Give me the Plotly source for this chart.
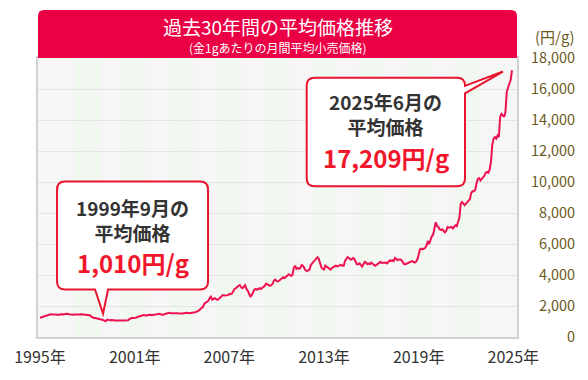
import plotly.graph_objects as go

# Monthly average retail gold price (yen per gram), Jul 1995 - Jun 2025
y1995 = [1240, 1270, 1320, 1330, 1350, 1390]
y1996 = [1430, 1480, 1470, 1450, 1460, 1440, 1450, 1440, 1430, 1440, 1470, 1450]
y1997 = [1460, 1490, 1520, 1500, 1470, 1440, 1410, 1430, 1450, 1440, 1430, 1440]
y1998 = [1450, 1460, 1450, 1470, 1460, 1450, 1460, 1440, 1400, 1310, 1250, 1230]
y1999 = [1220, 1200, 1190, 1180, 1160, 1140, 1100, 1050, 1010, 1120, 1090, 1080]
y2000 = [1090, 1100, 1080, 1070, 1060, 1080, 1070, 1060, 1070, 1060, 1070, 1080]
y2001 = [1070, 1080, 1150, 1200, 1240, 1230, 1220, 1240, 1290, 1320, 1300, 1330]
y2002 = [1390, 1420, 1400, 1380, 1420, 1440, 1420, 1430, 1420, 1440, 1430, 1460]
y2003 = [1480, 1500, 1460, 1420, 1450, 1480, 1470, 1520, 1560, 1530, 1540, 1550]
y2004 = [1540, 1560, 1540, 1530, 1500, 1520, 1510, 1530, 1540, 1550, 1560, 1540]
y2005 = [1560, 1570, 1580, 1580, 1590, 1620, 1700, 1720, 1800, 1850, 1950, 2150]
y2006 = [2200, 2280, 2330, 2500, 2600, 2400, 2450, 2500, 2450, 2400, 2450, 2520]
y2007 = [2650, 2700, 2680, 2700, 2680, 2700, 2780, 2760, 2800, 2950, 3100, 3150]
y2008 = [3250, 3300, 3350, 3200, 3150, 3250, 3340, 3100, 3000, 2800, 2590, 2700]
y2009 = [2850, 3050, 3100, 3050, 3100, 3150, 3100, 3150, 3200, 3300, 3450, 3400]
y2010 = [3350, 3300, 3350, 3450, 3650, 3700, 3600, 3580, 3650, 3700, 3800, 3850]
y2011 = [3800, 3850, 3950, 4050, 4000, 3950, 4000, 4450, 4600, 4400, 4450, 4400]
y2012 = [4450, 4650, 4600, 4450, 4300, 4250, 4300, 4350, 4650, 4750, 4800, 4900]
y2013 = [5050, 5150, 5050, 4750, 4500, 4400, 4350, 4600, 4550, 4500, 4450, 4350]
y2014 = [4450, 4500, 4600, 4600, 4550, 4600, 4650, 4650, 4600, 4600, 4900, 5000]
y2015 = [5150, 5100, 5000, 5000, 5100, 5050, 4800, 4700, 4700, 4750, 4650, 4550]
y2016 = [4700, 4850, 4800, 4700, 4750, 4700, 4800, 4700, 4650, 4600, 4650, 4750]
y2017 = [4800, 4850, 4780, 4800, 4780, 4800, 4750, 4850, 4950, 4900, 4950, 4900]
y2018 = [5100, 5050, 4950, 5000, 5000, 4950, 4800, 4700, 4700, 4750, 4750, 4800]
y2019 = [4850, 4900, 4850, 4800, 4850, 5000, 5300, 5650, 5700, 5650, 5700, 5750]
y2020 = [5900, 6200, 6000, 6300, 6500, 6600, 7000, 7400, 7150, 7100, 6950, 6900]
y2021 = [6950, 6850, 6750, 6850, 7100, 7050, 7100, 7100, 7000, 7100, 7200, 7150]
y2022 = [7400, 7700, 8600, 8700, 8600, 8500, 8600, 8700, 8800, 8900, 9300, 9400]
y2023 = [9400, 9500, 9900, 10200, 10250, 10100, 10200, 10300, 10400, 10600, 10650, 10600]
y2024 = [10800, 11300, 12400, 12800, 12900, 12800, 13000, 12900, 14200, 14400, 14300, 14200]
y2025 = [14500, 15800, 16100, 16400, 16600, 17209]

prices = (y1995 + y1996 + y1997 + y1998 + y1999 + y2000 + y2001 + y2002 + y2003
          + y2004 + y2005 + y2006 + y2007 + y2008 + y2009 + y2010 + y2011 + y2012
          + y2013 + y2014 + y2015 + y2016 + y2017 + y2018 + y2019 + y2020 + y2021
          + y2022 + y2023 + y2024 + y2025)
months = list(range(len(prices)))

x_tick_vals = [0, 72, 144, 216, 288, 360]
x_tick_text = ["1995年", "2001年", "2007年", "2013年", "2019年", "2025年"]
y_tick_vals = [0, 2000, 4000, 6000, 8000, 10000, 12000, 14000, 16000, 18000]
y_tick_text = ["\u2007\u2007\u2007\u2007\u20080", "\u20072,000", "\u20074,000", "\u20076,000",
               "\u20078,000", "10,000", "12,000", "14,000", "16,000", "18,000"]
band_centers = [36, 72, 108, 144, 180, 216, 252, 288, 324]

low_idx = 50          # Sep 1999
last_idx = len(prices) - 1  # Jun 2025
low_head = "1999年9月の<br>平均価格"
last_head = "2025年6月の<br>平均価格"
low_value = f"{prices[low_idx]:,}円/g"
last_value = f"{prices[last_idx]:,}円/g"

FONT = "Noto Sans CJK JP"
RED = "#EB0045"
LINE = "#EE1250"
BOX = "#E8152F"
VAL = "#F2162B"
DARK = "#333333"
OLIVE = "#6B5A1C"

fig = go.Figure()
fig.add_trace(go.Scatter(x=months, y=prices, mode="lines",
                         line=dict(color=LINE, width=2), hoverinfo="y"))

shapes = []
for c in band_centers:
    shapes.append(dict(type="rect", xref="x", yref="paper", x0=c - 9, x1=c + 9, y0=0, y1=1,
                       fillcolor="rgba(236,250,236,0.6)", line=dict(width=0), layer="below"))

# title banner
shapes.append(dict(type="path", xref="paper", yref="paper", xsizemode="pixel", ysizemode="pixel",
                   xanchor=0, yanchor=1,
                   path="M 0,0 L 0,42 Q 0,48 6,48 L 473,48 Q 479,48 479,42 L 479,0 Z",
                   fillcolor=RED, line=dict(width=0), layer="above"))

# callout for the low point
shapes.append(dict(type="path", xref="x", yref="y", xsizemode="pixel", ysizemode="pixel",
                   xanchor=low_idx, yanchor=prices[low_idx],
                   path=("M -40.7,139.8 L 94.3,139.8 Q 102.3,139.8 102.3,131.8 L 102.3,39.8 "
                         "Q 102.3,31.8 94.3,31.8 L 2.3,31.8 L -2.7,7.8 L -10.7,31.8 L -40.7,31.8 "
                         "Q -48.7,31.8 -48.7,39.8 L -48.7,131.8 Q -48.7,139.8 -40.7,139.8 Z"),
                   fillcolor="white", line=dict(color=BOX, width=2), layer="above"))
# callout for the last point
shapes.append(dict(type="path", xref="x", yref="y", xsizemode="pixel", ysizemode="pixel",
                   xanchor=last_idx, yanchor=prices[last_idx],
                   path=("M -197.3,-7.6 L -55,-7.6 Q -47,-7.6 -47,-15.6 L -9,-1.3 L -47,-23 "
                         "L -47,-108 Q -47,-116 -55,-116 L -197.3,-116 Q -205.3,-116 -205.3,-108 "
                         "L -205.3,-15.6 Q -205.3,-7.6 -197.3,-7.6 Z"),
                   fillcolor="white", line=dict(color=BOX, width=2), layer="above"))

annotations = [
    dict(xref="paper", yref="paper", x=0.5, y=(346 - 26) / 288, text="過去30年間の平均価格推移",
         showarrow=False, font=dict(family=FONT, size=19, color="white"), xanchor="center", yanchor="middle"),
    dict(xref="paper", yref="paper", x=0.5, y=(346 - 47) / 288, text="(金1gあたりの月間平均小売価格)",
         showarrow=False, font=dict(family=FONT, size=12, color="white"), xanchor="center", yanchor="middle"),
    dict(xref="paper", yref="paper", x=(554 - 38) / 479, y=(346 - 36) / 288, text="(円/g)",
         showarrow=False, font=dict(family=FONT, size=15, color=OLIVE), xanchor="center", yanchor="middle"),
]

def callout_text(idx, head, value, dx, dy_head, dy_value):
    return [
        dict(xref="x", yref="y", x=idx, y=prices[idx], xshift=dx, yshift=dy_head,
             text=f"<b>{head}</b>", showarrow=False, align="center",
             font=dict(family=FONT, size=19, color=DARK), xanchor="center", yanchor="middle"),
        dict(xref="x", yref="y", x=idx, y=prices[idx], xshift=dx, yshift=dy_value,
             text=f"<b>{value}</b>", showarrow=False,
             font=dict(family=FONT, size=24, color=VAL), xanchor="center", yanchor="middle"),
    ]

annotations += callout_text(low_idx, low_head, low_value, 26.8, 101, 58.5)
annotations += callout_text(last_idx, last_head, last_value, -126.2, -43.6, -87.6)

fig.update_layout(
    width=588, height=380,
    margin=dict(l=38, r=71, t=58, b=34),
    paper_bgcolor="white", plot_bgcolor="#F6F6F6",
    showlegend=False,
    font=dict(family=FONT),
    shapes=shapes, annotations=annotations,
    xaxis=dict(range=[-1.52, 362.8], tickvals=x_tick_vals, ticktext=x_tick_text,
               showgrid=False, zeroline=False, showline=True, linecolor="#D2D2D2", linewidth=2,
               mirror=True, ticks="", ticklabelstandoff=5,
               tickfont=dict(family=FONT, size=16, color=DARK), fixedrange=True),
    yaxis=dict(range=[0, 18000], side="right", tickvals=y_tick_vals, ticktext=y_tick_text,
               showgrid=True, gridcolor="#E4E4E4", gridwidth=1, zeroline=False,
               showline=True, linecolor="#D2D2D2", linewidth=2, mirror=True, ticks="",
               ticklabelstandoff=9, tickfont=dict(family=FONT, size=14.5, color=OLIVE),
               fixedrange=True),
)

fig.write_html("out.html", config={"displayModeBar": False},
               post_script="document.body.style.margin='0';document.body.style.overflow='hidden';")
